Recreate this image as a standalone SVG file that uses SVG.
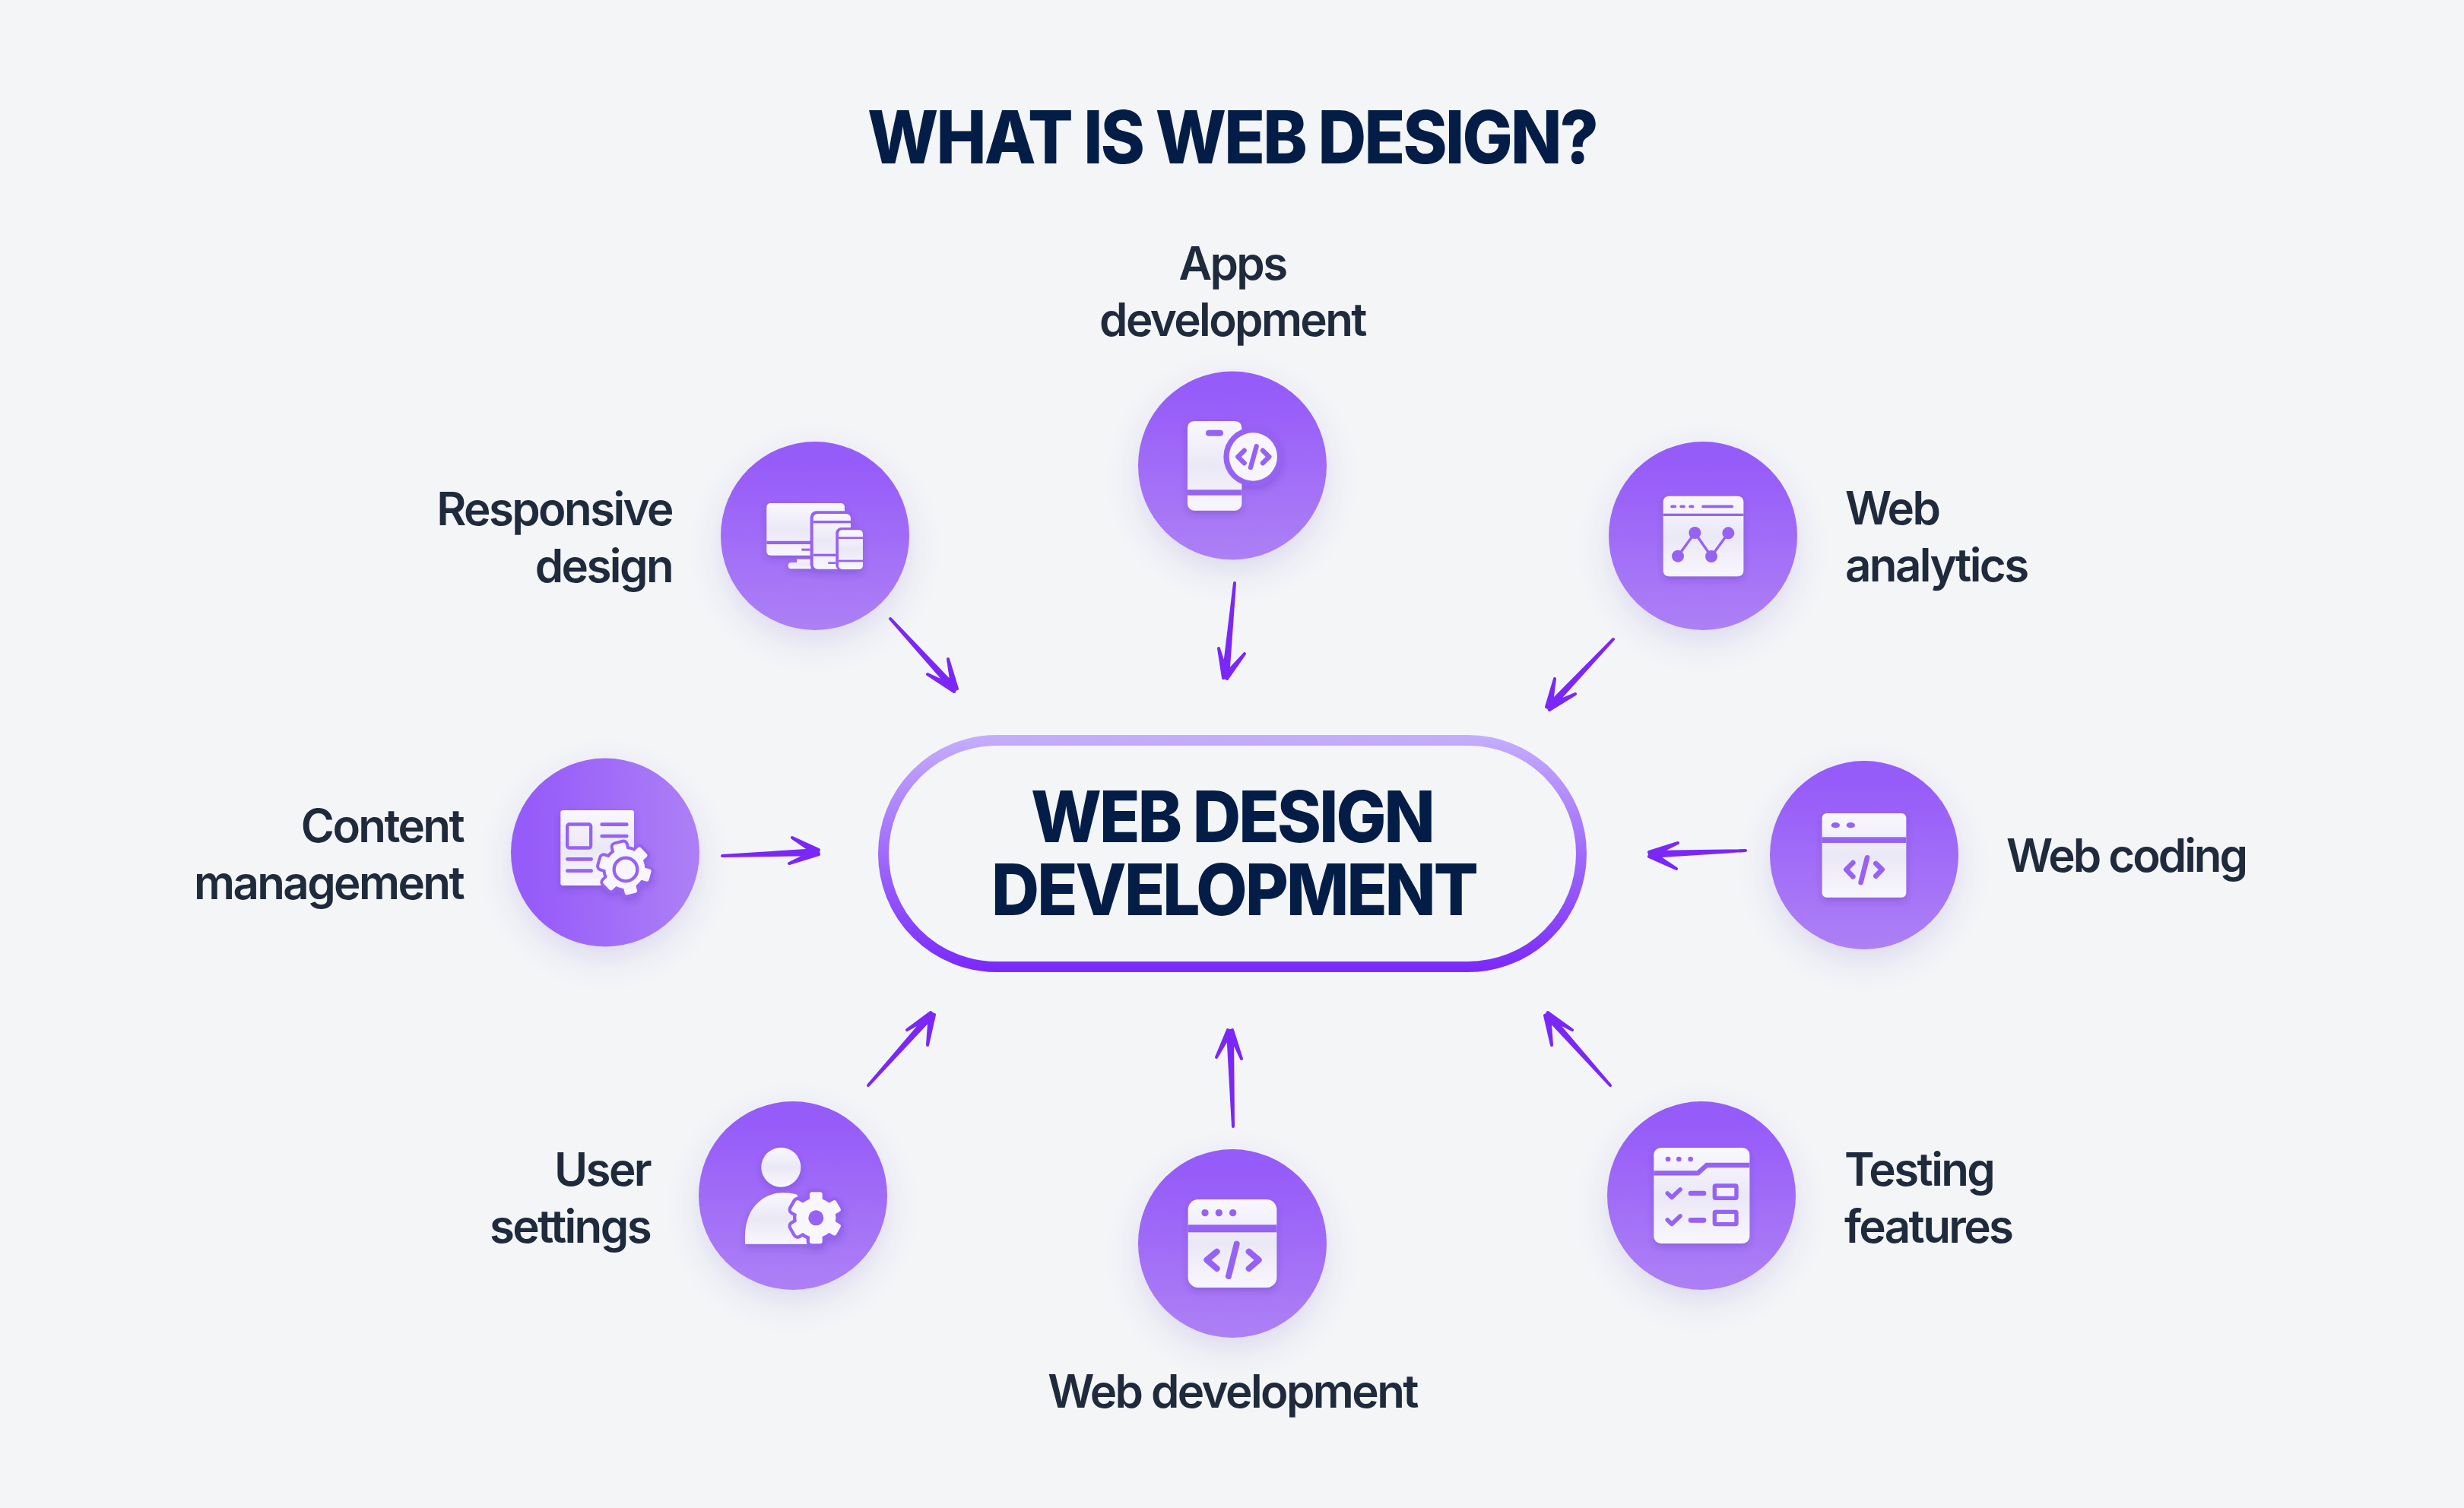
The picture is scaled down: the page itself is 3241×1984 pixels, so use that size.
<svg xmlns="http://www.w3.org/2000/svg" xmlns:xlink="http://www.w3.org/1999/xlink" width="3241" height="1984" viewBox="0 0 3241 1984">
<style>
text{font-family:Inter,"Liberation Sans",sans-serif}
.title{font-weight:800;fill:#041d46;text-anchor:middle}
.lbl{font-size:60px;font-weight:600;fill:#1f2a3c;letter-spacing:-2.6px}
.e{text-anchor:end}.m{text-anchor:middle}
.disc{filter:url(#ds)}
.w{fill:url(#wg)}
.p{fill:#9662f4}
.ps{fill:none;stroke:#9662f4;stroke-linecap:round;stroke-linejoin:round}
.arrow{fill:#7a27f8;stroke:#7a27f8;stroke-width:4;stroke-linejoin:round}
.ic{filter:url(#is)}
</style>
<defs>
<linearGradient id="cg" x1="0" y1="0" x2="0" y2="1"><stop offset=".1" stop-color="#965bf9"/><stop offset="1" stop-color="#ad80f5"/></linearGradient>
<linearGradient id="cg2" x1="0" y1="0" x2="1" y2="0"><stop offset=".1" stop-color="#965bf9"/><stop offset="1" stop-color="#ad80f6"/></linearGradient>
<linearGradient id="wg" x1="0" y1="0" x2="0" y2="1"><stop offset="0" stop-color="#f9f8fe"/><stop offset=".5" stop-color="#ebe8f6"/><stop offset="1" stop-color="#f8f6fd"/></linearGradient>
<linearGradient id="pg" gradientUnits="userSpaceOnUse" x1="0" y1="967" x2="0" y2="1279"><stop offset="0" stop-color="#c5aefc"/><stop offset="1" stop-color="#7a28fb"/></linearGradient>
<filter id="ds" x="-30%" y="-30%" width="160%" height="170%"><feDropShadow dx="0" dy="16" stdDeviation="20" flood-color="#6a4fc0" flood-opacity=".16"/></filter>
<filter id="is" x="-30%" y="-30%" width="160%" height="170%"><feDropShadow dx="0" dy="14" stdDeviation="14" flood-color="#4a2aa0" flood-opacity=".28"/></filter>
<g id="gear6"><circle r="78"/><rect x="-25" y="-102" width="50" height="204" rx="9"/><rect x="-25" y="-102" width="50" height="204" rx="9" transform="rotate(60)"/><rect x="-25" y="-102" width="50" height="204" rx="9" transform="rotate(120)"/></g>
</defs>
<rect width="3241" height="1984" fill="#f3f5f7"/>
<text class="title" x="1620.500" y="215" font-size="96" letter-spacing="-3" textLength="959" lengthAdjust="spacingAndGlyphs">WHAT IS WEB DESIGN?</text>

<g id="connectors">
<path class="arrow" d="M1171 814L1258 905L1254 909ZM1247 867L1259 906L1253 908ZM1220 887L1257 904L1255 910Z"/>
<path class="arrow" d="M1624 767L1615 891L1609 891ZM1603 853L1615 890L1609 892ZM1637 860L1614 893L1610 889Z"/>
<path class="arrow" d="M2122 841L2039 933L2035 929ZM2045 893L2040 932L2034 930ZM2072 913L2038 934L2036 928Z"/>
<path class="arrow" d="M950 1126L1076 1118L1076 1124ZM1042 1102L1077 1118L1074 1124ZM1038 1136L1077 1124L1075 1118Z"/>
<path class="arrow" d="M2296 1119L2170 1121L2170 1127ZM2207 1109L2169 1121L2171 1127ZM2205 1143L2172 1121L2169 1127Z"/>
<path class="arrow" d="M1142 1428L1228 1336L1224 1332ZM1193 1355L1227 1336L1224 1332ZM1220 1375L1229 1335L1223 1333Z"/>
<path class="arrow" d="M1622 1482L1621 1357L1615 1357ZM1600 1391L1620 1357L1615 1355ZM1633 1393L1621 1355L1616 1357Z"/>
<path class="arrow" d="M2118 1428L2037 1333L2033 1337ZM2068 1355L2036 1332L2033 1337ZM2041 1375L2038 1334L2032 1336Z"/>
</g>

<g id="center">
<rect x="1162" y="974" width="918" height="298" rx="149" fill="#f3f5f7" stroke="url(#pg)" stroke-width="14"/>
<text class="title" x="1620.500" y="1108" font-size="94" letter-spacing="-3" textLength="529" lengthAdjust="spacingAndGlyphs">WEB DESIGN</text>
<text class="title" x="1623" y="1204" font-size="94" letter-spacing="-3" textLength="638" lengthAdjust="spacingAndGlyphs">DEVELOPMENT</text>
</g>

<g id="node-responsive">
<circle class="disc" cx="1072" cy="705" r="124" fill="url(#cg)"/>
<g class="ic" transform="translate(920 480) scale(.3333)">
<rect class="w" x="265" y="546" width="308" height="206" rx="15"/>
<path class="p" d="M265 695H440V708H265Z"/>
<path class="w" d="M385 767H440V805H362Q350 805 350 793Q350 780 365 780H385Z"/>
<rect class="p" x="403" y="725" width="34" height="9"/>
<rect class="p" x="437" y="577" width="165" height="235" rx="25"/>
<rect class="w" x="449" y="588" width="148" height="218" rx="18"/>
<rect class="p" x="449" y="615" width="150" height="10"/>
<rect class="p" x="449" y="746" width="150" height="10"/>
<rect class="p" x="508" y="778" width="30" height="8"/>
<rect class="p" x="538" y="642" width="107" height="170" rx="22"/>
<rect class="w" x="549" y="652" width="96" height="155" rx="14"/>
<rect class="p" x="549" y="679" width="96" height="8"/>
<rect class="p" x="549" y="770" width="96" height="8"/>
</g>
<text class="lbl e" x="884" y="691">Responsive</text>
<text class="lbl e" x="884" y="766">design</text>
</g>

<g id="node-apps">
<circle class="disc" cx="1621" cy="612.500" r="124" fill="url(#cg)"/>
<g class="ic" transform="translate(1480 470) scale(.3333)">
<rect class="w" x="246" y="252" width="214" height="353" rx="26"/>
<rect class="p" x="246" y="523" width="214" height="22"/>
<rect class="p" x="318" y="287" width="69" height="24" rx="12"/>
<circle class="p" cx="505" cy="393" r="117"/>
<circle cx="505" cy="393" r="95" fill="#f7f5fd"/>
<path class="ps" stroke-width="19" d="M470 368L445 393L470 418M518 352L495 435M543 368L568 393L543 418"/>
</g>
<text class="lbl m" x="1621" y="368">Apps</text>
<text class="lbl m" x="1621" y="442">development</text>
</g>

<g id="node-analytics">
<circle class="disc" cx="2240" cy="705" r="124" fill="url(#cg)"/>
<g class="ic" transform="translate(2100 570) scale(.3333)">
<rect class="w" x="263" y="248" width="317" height="317" rx="22"/>
<rect class="p" x="263" y="317" width="317" height="10"/>
<path class="ps" stroke-width="11" d="M297 289H310M333 289H345M369 289H380M420 289H535"/>
<path class="ps" stroke-width="10" fill="none" d="M321 485L388 393L453 486L520 394"/>
<circle class="p" cx="321" cy="485" r="24"/><circle class="p" cx="388" cy="393" r="24"/><circle class="p" cx="453" cy="486" r="24"/><circle class="p" cx="520" cy="394" r="24"/>
</g>
<text class="lbl" x="2427" y="690">Web</text>
<text class="lbl" x="2427" y="765">analytics</text>
</g>

<g id="node-content">
<circle class="disc" cx="796" cy="1121.500" r="124" fill="url(#cg2)"/>
<g class="ic" transform="translate(660 990) scale(.3333)">
<rect class="w" x="232" y="228" width="290" height="297" rx="10"/>
<rect x="258.500" y="283.500" width="93" height="93" rx="8" fill="none" stroke="#9662f4" stroke-width="13"/>
<path class="ps" stroke-width="14" d="M395 284H493M395 330H493M259 421H353M259 467H353"/>
<use href="#gear6" xlink:href="#gear6" transform="translate(487 459) rotate(-14)" fill="#9662f4" stroke="#9662f4" stroke-width="24" stroke-linejoin="round"/>
<use href="#gear6" xlink:href="#gear6" transform="translate(487 459) rotate(-14)" fill="#f7f5fd"/>
<circle cx="489" cy="462" r="46" fill="#f7f5fd" stroke="#9662f4" stroke-width="13"/>
</g>
<text class="lbl e" x="609" y="1108">Content</text>
<text class="lbl e" x="609" y="1183">management</text>
</g>

<g id="node-coding">
<circle class="disc" cx="2452" cy="1125" r="124" fill="url(#cg)"/>
<g class="ic" transform="translate(2150 990) scale(.3333)">
<rect class="w" x="740" y="240" width="332" height="332" rx="18"/>
<rect class="p" x="740" y="334" width="332" height="23"/>
<ellipse class="p" cx="793" cy="287" rx="17" ry="11"/><ellipse class="p" cx="853" cy="287" rx="17" ry="11"/>
<path class="ps" stroke-width="20" d="M862 435L835 462L862 490M918 415L893 513M952 438L977 462L952 488"/>
</g>
<text class="lbl" x="2639" y="1147" style="letter-spacing:-3px">Web coding</text>
</g>

<g id="node-user">
<circle class="disc" cx="1043" cy="1573" r="124" fill="url(#cg)"/>
<g class="ic" transform="translate(900 1430) scale(.3333)">
<circle class="w" cx="382" cy="317" r="78"/>
<path class="w" d="M240 620V590C240 480 310 418 390 418C410 418 425 420 445 425L490 620Z"/>
<use href="#gear6" xlink:href="#gear6" transform="translate(520 517)" fill="#9662f4" stroke="#9662f4" stroke-width="26" stroke-linejoin="round"/>
<use href="#gear6" xlink:href="#gear6" transform="translate(520 517)" fill="#f8f7fd"/>
<circle class="p" cx="520" cy="517" r="30"/>
</g>
<text class="lbl e" x="855" y="1560">User</text>
<text class="lbl e" x="855" y="1635">settings</text>
</g>

<g id="node-webdev">
<circle class="disc" cx="1621" cy="1636" r="124" fill="url(#cg)"/>
<g class="ic" transform="translate(1480 1500) scale(.3333)">
<rect class="w" x="248" y="234" width="350" height="348" rx="40"/>
<rect class="p" x="248" y="334" width="350" height="30"/>
<circle class="p" cx="315" cy="287" r="14"/><circle class="p" cx="370" cy="287" r="14"/><circle class="p" cx="425" cy="287" r="14"/>
<path class="ps" stroke-width="24" d="M362 440L322 473L362 507M440 410L408 537M488 440L527 473L488 507"/>
</g>
<text class="lbl m" x="1621" y="1852">Web development</text>
</g>

<g id="node-testing">
<circle class="disc" cx="2238" cy="1573" r="124" fill="url(#cg)"/>
<g class="ic" transform="translate(2100 1430) scale(.3333)">
<rect class="w" x="226" y="240" width="378" height="378" rx="28"/>
<path d="M226 340H400L435 309H604" fill="none" stroke="#9662f4" stroke-width="19"/>
<circle class="p" cx="282" cy="285" r="10"/><circle class="p" cx="325" cy="285" r="10"/><circle class="p" cx="371" cy="285" r="10"/>
<path class="ps" stroke-width="17" d="M280 420L297 436L330 405M280 525L297 541L330 510"/>
<path class="ps" stroke-width="20" d="M372 420H423M372 526H423"/>
<rect x="466" y="390" width="86" height="49" rx="4" fill="#f3f1fb" stroke="#9662f4" stroke-width="16"/>
<rect x="466" y="493" width="86" height="49" rx="4" fill="#f3f1fb" stroke="#9662f4" stroke-width="16"/>
</g>
<text class="lbl" x="2426" y="1560">Testing</text>
<text class="lbl" x="2426" y="1635">features</text>
</g>
</svg>
